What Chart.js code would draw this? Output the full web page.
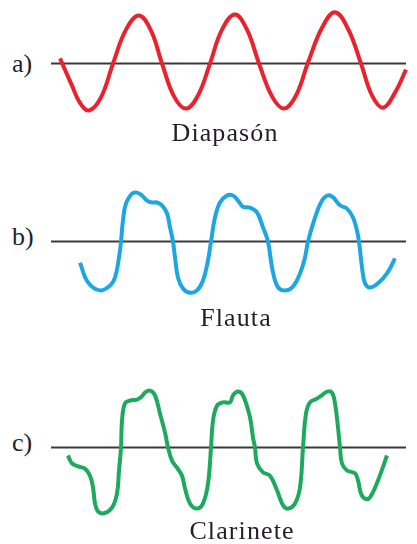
<!DOCTYPE html>
<html lang="es">
<head>
<meta charset="utf-8">
<title>Formas de onda</title>
<script src="https://cdn.jsdelivr.net/npm/chart.js@4/dist/chart.umd.min.js"></script>
<style>
  html, body { margin: 0; padding: 0; background: #ffffff; overflow: hidden; }
  body { width: 417px; height: 544px; position: relative; }
  canvas.onda { position: absolute; left: 41px; }
  .rotulo, .titulo {
    position: absolute;
    font-family: "Liberation Serif", "DejaVu Serif", serif;
    color: #231f24;
    white-space: nowrap;
  }
  .rotulo { left: 12px; font-size: 26px; line-height: 26px; }
  .titulo { font-size: 26px; line-height: 26px; letter-spacing: 1.1px; transform: translateX(-50%); }
</style>
</head>
<body>
<canvas id="ondaA" class="onda" width="375" height="141" style="top:-7.5px"></canvas>
<canvas id="ondaB" class="onda" width="375" height="141" style="top:170.5px"></canvas>
<canvas id="ondaC" class="onda" width="375" height="141" style="top:376.5px"></canvas>

<div class="rotulo" style="top:51px">a)</div>
<div class="rotulo" style="top:224px">b)</div>
<div class="rotulo" style="top:430px">c)</div>

<div class="titulo" style="left:225px; top:120px">Diapasón</div>
<div class="titulo" style="left:236px; top:305px">Flauta</div>
<div class="titulo" style="left:242px; top:518px">Clarinete</div>

<script>
// Time axis in ms, amplitude in relative units (0 = equilibrium line)
const ejeT = [0, 3.55];

// a) tuning fork: pure tone
const tDiapason = [0.09, 0.21, 0.29, 0.38, 0.50, 0.62, 0.75, 0.88, 1.00, 1.11, 1.23, 1.35, 1.47, 1.59, 1.71,
                   1.84, 1.96, 2.08, 2.21, 2.33, 2.45, 2.57, 2.71, 2.84, 2.97, 3.10, 3.21, 3.32, 3.44, 3.55];
const yDiapason = [0.11, -0.47, -0.84, -1.00, -0.72, 0.00, 0.72, 1.02, 0.70, 0.00, -0.70, -0.96, -0.68, 0.00, 0.72,
                   1.04, 0.72, 0.00, -0.70, -0.96, -0.68, 0.02, 0.76, 1.09, 0.74, 0.00, -0.68, -0.94, -0.62, -0.13];

// b) flute
const tFlauta = [0.29, 0.37, 0.49, 0.59, 0.64, 0.68, 0.70, 0.72, 0.75, 0.81, 0.86, 0.91, 0.96, 1.01, 1.06, 1.11,
                 1.16, 1.19, 1.22, 1.24, 1.27, 1.32, 1.39, 1.46, 1.52, 1.57, 1.60, 1.64, 1.69, 1.76, 1.82, 1.87,
                 1.92, 1.99, 2.06, 2.12, 2.17, 2.21, 2.26, 2.32, 2.41, 2.49, 2.54, 2.57, 2.64, 2.71, 2.77, 2.82,
                 2.89, 2.96, 3.02, 3.06, 3.08, 3.11, 3.14, 3.19, 3.27, 3.36, 3.44];
const yFlauta = [-0.45, -0.87, -1.04, -0.94, -0.77, -0.34, 0.00, 0.45, 0.81, 1.02, 1.04, 0.98, 0.87, 0.83, 0.83, 0.77,
                 0.60, 0.30, 0.00, -0.34, -0.77, -1.00, -1.09, -1.04, -0.83, -0.40, 0.00, 0.51, 0.83, 0.98, 0.98, 0.87,
                 0.74, 0.72, 0.62, 0.30, 0.00, -0.55, -0.94, -1.04, -0.98, -0.68, -0.34, 0.00, 0.51, 0.87, 0.98, 0.94,
                 0.77, 0.70, 0.51, 0.23, 0.00, -0.55, -0.89, -0.98, -0.89, -0.68, -0.36];

// c) clarinet
const tClarinete = [0.17, 0.21, 0.27, 0.34, 0.39, 0.42, 0.44, 0.47, 0.53, 0.61, 0.66, 0.68, 0.70, 0.71, 0.74, 0.79,
                    0.86, 0.91, 0.94, 0.99, 1.04, 1.09, 1.14, 1.17, 1.21, 1.26, 1.31, 1.34, 1.39, 1.46, 1.52, 1.57,
                    1.60, 1.62, 1.66, 1.72, 1.79, 1.82, 1.87, 1.92, 1.99, 2.02, 2.04, 2.06, 2.12, 2.19, 2.26, 2.32,
                    2.37, 2.44, 2.49, 2.52, 2.55, 2.59, 2.66, 2.71, 2.76, 2.81, 2.84, 2.87, 2.89, 2.91, 2.96, 3.04,
                    3.07, 3.10, 3.14, 3.19, 3.27, 3.36];
const yClarinete = [-0.17, -0.34, -0.40, -0.45, -0.60, -0.85, -1.19, -1.36, -1.40, -1.28, -0.98, -0.49, 0.00, 0.57, 0.94, 1.00,
                    1.02, 1.09, 1.17, 1.21, 1.11, 0.72, 0.32, 0.00, -0.28, -0.43, -0.60, -0.87, -1.19, -1.30, -1.19, -0.77,
                    0.00, 0.57, 0.89, 0.96, 0.96, 1.11, 1.19, 1.11, 0.64, 0.21, 0.00, -0.34, -0.53, -0.60, -0.91, -1.23,
                    -1.30, -1.19, -0.85, 0.00, 0.72, 0.96, 1.04, 1.11, 1.19, 1.17, 0.94, 0.43, 0.00, -0.34, -0.49, -0.55,
                    -0.70, -0.98, -1.09, -1.06, -0.70, -0.17];

const toPoints = (xs, ys) => xs.map((x, i) => ({ x, y: ys[i] }));

function dibujarOnda(id, ts, ys, color) {
  new Chart(document.getElementById(id), {
    type: 'line',
    data: {
      datasets: [
        {
          label: 'equilibrio',
          data: toPoints(ejeT, [0, 0]),
          borderColor: '#3a3a3a',
          borderWidth: 1.8,
          pointRadius: 0,
          tension: 0,
          order: 2
        },
        {
          label: 'onda',
          data: toPoints(ts, ys),
          borderColor: color,
          borderWidth: 4,
          pointRadius: 0,
          tension: 0.4,
          borderCapStyle: 'butt',
          borderJoinStyle: 'round',
          clip: false,
          order: 1
        }
      ]
    },
    options: {
      responsive: false,
      animation: false,
      events: [],
      layout: { padding: 0 },
      plugins: { legend: { display: false }, tooltip: { enabled: false }, title: { display: false } },
      scales: {
        x: { type: 'linear', min: -0.10, max: 3.65, display: false },
        y: { type: 'linear', min: -1.5, max: 1.5, display: false }
      }
    }
  });
}

dibujarOnda('ondaA', tDiapason, yDiapason, '#e8232d');
dibujarOnda('ondaB', tFlauta, yFlauta, '#1ca6e2');
dibujarOnda('ondaC', tClarinete, yClarinete, '#1daa5e');
</script>
</body>
</html>
